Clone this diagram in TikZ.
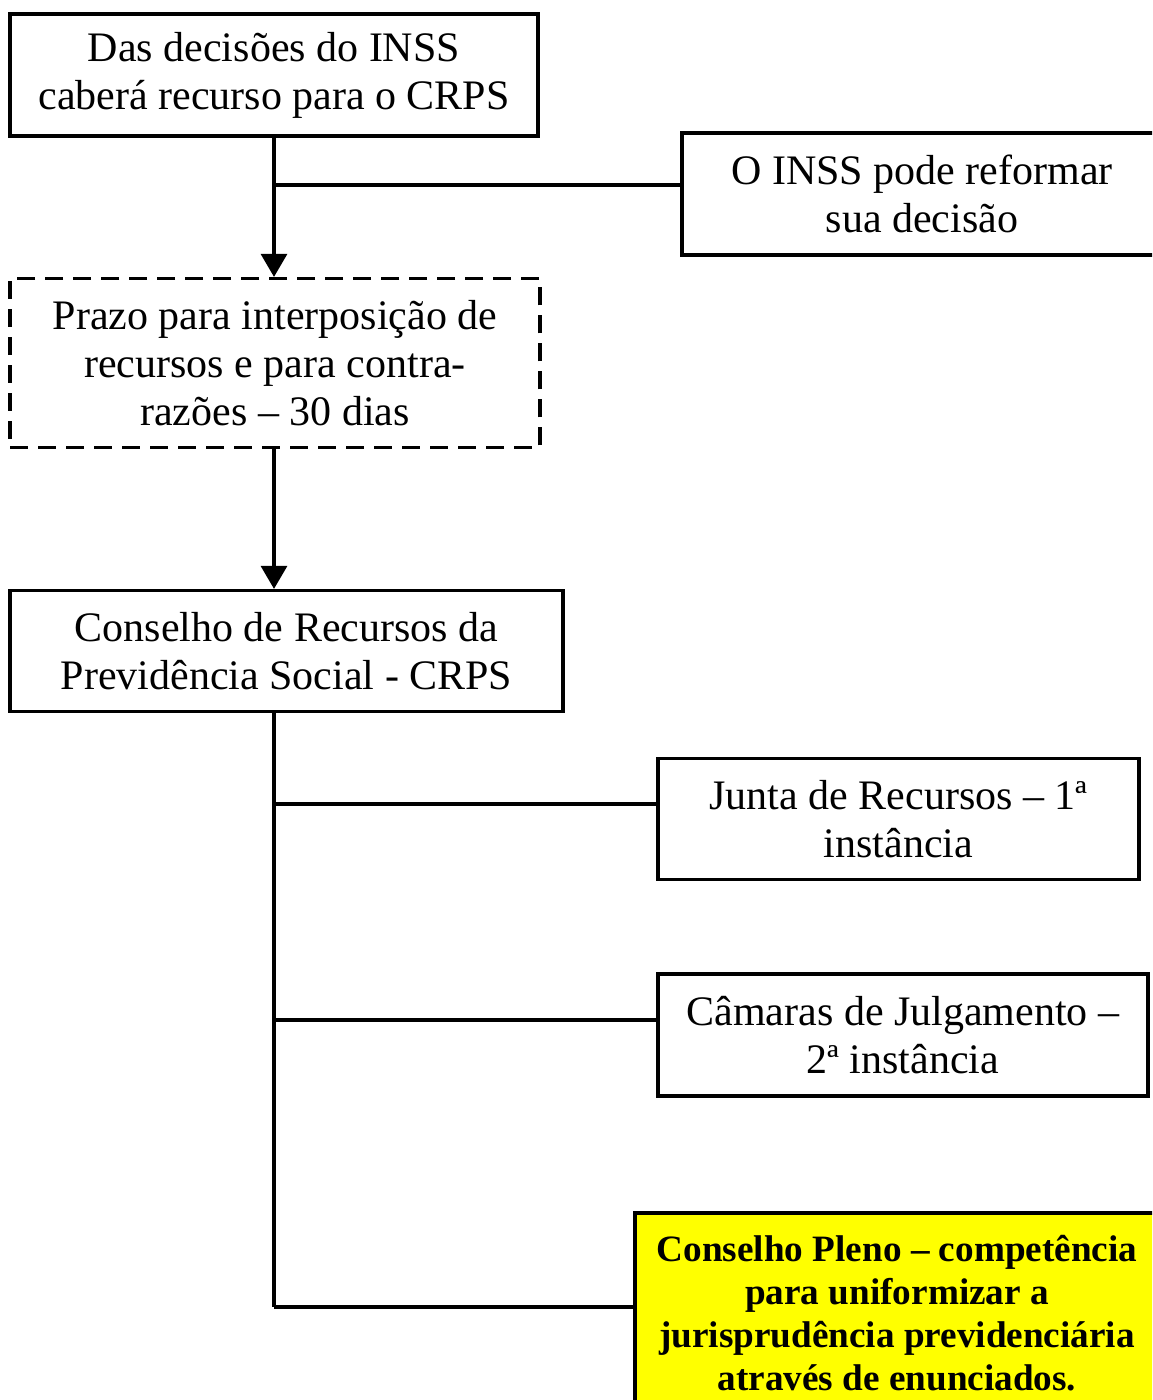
\documentclass[tikz,border=0pt]{standalone}
\usepackage{fontspec}
\setmainfont{Liberation Serif}
\usetikzlibrary{arrows.meta}
\definecolor{plenoyellow}{RGB}{255,255,0}
\tikzstyle{box} = [rectangle, draw=black, line width=1.6pt, align=center, inner sep=2pt, font=\fontsize{21}{24}\selectfont]
\tikzstyle{dashbox} = [box, dash pattern=on 9pt off 5pt]
\tikzstyle{plenum} = [box, fill=plenoyellow, font=\fontsize{18.6}{21.5}\selectfont\bfseries]
\tikzstyle{link} = [line width=1.6pt]
\tikzstyle{arrow} = [link, -{Triangle[length=11.5pt,width=13pt]}]

\begin{document}
\begin{tikzpicture}[x=0.5pt, y=-0.5pt]
\clip (0,0) rectangle (1152,1400);
\fill [white] (0,0) rectangle (1152,1400);

\node (decisao) [box, minimum width=264pt, minimum height=61pt] at (274,75) {Das decisões do INSS\\caberá recurso para o CRPS};

\node (reforma) [box, minimum width=240pt, minimum height=61pt] at (922,194) {O INSS pode reformar\\sua decisão};

\node (prazo) [dashbox, minimum width=265pt, minimum height=84.5pt] at (275,363) {Prazo para interposição de\\recursos e para contra-\\razões -- 30 dias};

\node (crps) [box, minimum width=276.5pt, minimum height=60.5pt] at (286.5,651) {Conselho de Recursos da\\Previdência Social - CRPS};

\node (junta) [box, minimum width=240.5pt, minimum height=60.5pt] at (898.5,819) {Junta de Recursos -- 1ª\\instância};

\node (camaras) [box, minimum width=245pt, minimum height=61pt] at (903,1035) {Câmaras de Julgamento --\\2ª instância};

\node (pleno) [plenum, minimum width=262pt, minimum height=100pt] at (897,1313) {Conselho Pleno -- competência\\para uniformizar a\\jurisprudência previdenciária\\através de enunciados.};

\coordinate (jreforma) at (274,185);
\coordinate (jjunta) at (274,804);
\coordinate (jcamaras) at (274,1020);
\coordinate (jpleno) at (274,1307);

\draw [arrow] (decisao.south) -- (prazo.north -| decisao.south);
\draw [link] (jreforma) -- (jreforma -| reforma.west);
\draw [arrow] (prazo.south -| decisao.south) -- (crps.north -| decisao.south);
\draw [link] (crps.south -| decisao.south) -- (jpleno);
\draw [link] (jjunta) -- (jjunta -| junta.west);
\draw [link] (jcamaras) -- (jcamaras -| camaras.west);
\draw [link] (jpleno) -- (jpleno -| pleno.west);
\end{tikzpicture}
\end{document}
